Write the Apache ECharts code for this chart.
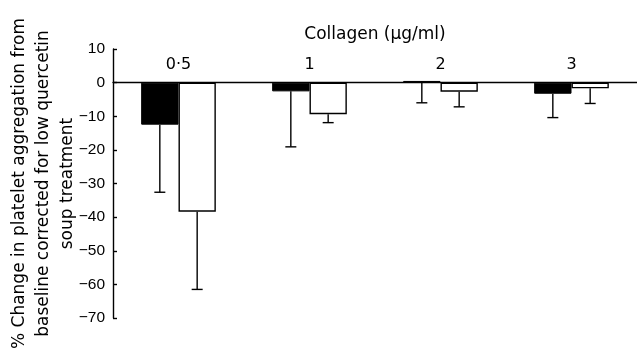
<!DOCTYPE html>
<html>
<head>
<meta charset="utf-8">
<script src="https://cdn.jsdelivr.net/npm/echarts@6/dist/echarts.min.js"></script>
<style>
  html, body { margin: 0; padding: 0; background: #fff; }
  #chart { width: 637px; height: 355px; }
</style>
</head>
<body>
<div id="chart"></div>
<script>
// Data
const categories = ['0·5', '1', '2', '3'];
const blackValues = [-12.5, -2.6, 0.5, -3.3];
const blackLows = [-32.6, -19.1, -6.0, -10.4];
const whiteValues = [-38.4, -9.4, -2.7, -1.7];
const whiteLows = [-61.5, -11.9, -7.2, -6.2];

const FONT = '"DejaVu Sans", sans-serif';
const TICK_FONT = '"Liberation Sans", Arial, sans-serif';
const GAP = 0.43;
const GRID_TOP = 49, GRID_BOTTOM = 37, Y_MIN = -70, Y_MAX = 10;

let chart = echarts.init(document.getElementById('chart'));

// x axis sits on the zero line, labels above it
let plotH = 355 - GRID_TOP - GRID_BOTTOM;
let zeroOffset = -plotH * Y_MAX / (Y_MAX - Y_MIN);

// error bar (one sided, downward) drawn at a bar's centre
function errorSeries(values, lows, side) {
    return {
        type: 'custom',
        silent: true,
        z: 5,
        data: values.map((v, i) => [i, v, lows[i]]),
        renderItem: (params, api) => {
            let band = api.size([1, 0])[0];
            let barW = band * (1 - GAP) / 2;
            let top = api.coord([api.value(0), api.value(1)]);
            let bot = api.coord([api.value(0), api.value(2)]);
            let x = top[0] + side * barW / 2;
            let style = { stroke: '#000', lineWidth: 1.4 };
            return {
                type: 'group',
                children: [
                    { type: 'line', shape: { x1: x, y1: top[1], x2: x, y2: bot[1] }, style: style },
                    { type: 'line', shape: { x1: x - 5.5, y1: bot[1], x2: x + 5.5, y2: bot[1] }, style: style }
                ]
            };
        }
    };
}

let option = {
    animation: false,
    grid: { left: 113, right: 0, top: GRID_TOP, bottom: GRID_BOTTOM, outerBoundsMode: 'none', containLabel: false },
    xAxis: {
        type: 'category',
        data: categories,
        position: 'top',
        offset: zeroOffset,
        name: 'Collagen (μg/ml)',
        nameLocation: 'middle',
        nameGap: 40,
        nameTextStyle: { fontFamily: FONT, fontSize: 17, color: '#000' },
        axisLine: { onZero: false, lineStyle: { color: '#000', width: 1.4 } },
        axisTick: { inside: true, length: 5, lineStyle: { color: '#000', width: 1.4 } },
        axisLabel: { fontFamily: FONT, fontSize: 16, color: '#000', margin: 10 },
        splitLine: { show: false }
    },
    yAxis: {
        type: 'value',
        min: Y_MIN,
        max: Y_MAX,
        interval: 10,
        name: '% Change in platelet aggregation from\nbaseline corrected for low quercetin\nsoup treatment',
        nameLocation: 'middle',
        nameGap: 33,
        nameMoveOverlap: false,
        nameRotate: 90,
        nameTextStyle: { fontFamily: FONT, fontSize: 17, color: '#000', lineHeight: 24 },
        axisLine: { show: true, lineStyle: { color: '#000', width: 1.4 } },
        axisTick: { show: true, inside: true, length: 4, lineStyle: { color: '#000', width: 1.4 } },
        axisLabel: {
            fontFamily: TICK_FONT, fontSize: 15.5, color: '#000', margin: 8,
            formatter: v => String(v).replace('-', '−')
        },
        splitLine: { show: false }
    },
    series: [
        {
            type: 'bar',
            data: blackValues,
            barGap: '0%',
            barCategoryGap: GAP * 100 + '%',
            itemStyle: { color: '#000', borderColor: '#000', borderWidth: 1 }
        },
        {
            type: 'bar',
            data: whiteValues,
            barGap: '0%',
            barCategoryGap: GAP * 100 + '%',
            itemStyle: { color: '#fff', borderColor: '#000', borderWidth: 1.4 }
        },
        errorSeries(blackValues, blackLows, -1),
        errorSeries(whiteValues, whiteLows, 1)
    ]
};

chart.setOption(option);
</script>
</body>
</html>
